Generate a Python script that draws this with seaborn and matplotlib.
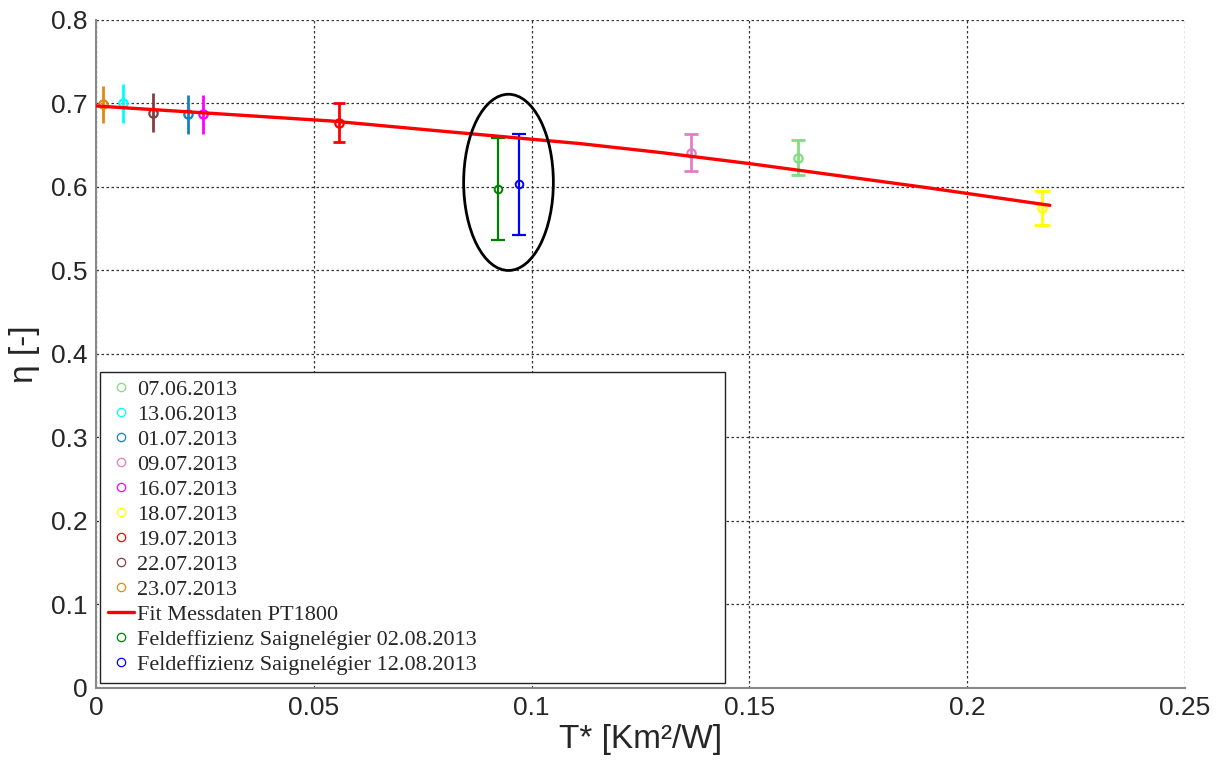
import matplotlib
import matplotlib.pyplot as plt
import pandas as pd
import seaborn as sns
from matplotlib.lines import Line2D
from matplotlib.patches import Ellipse

matplotlib.use("Agg")

# ---------------------------------------------------------------------------
# Data
# ---------------------------------------------------------------------------

date_labels = [
    "07.06.2013", "13.06.2013", "01.07.2013", "09.07.2013", "16.07.2013",
    "18.07.2013", "19.07.2013", "22.07.2013", "23.07.2013",
]
date_t = [0.1612, 0.0062, 0.0211, 0.1365, 0.0245, 0.2172, 0.0557, 0.0131, 0.0016]
date_eta = [0.635, 0.700, 0.687, 0.641, 0.687, 0.575, 0.677, 0.689, 0.699]
date_err = [0.021, 0.023, 0.023, 0.022, 0.023, 0.020, 0.023, 0.023, 0.022]
date_colors = [
    "#80dd80", "#00ffff", "#1a7fc0", "#e07fc8", "#ff00ff",
    "#ffff00", "#ff0000", "#804040", "#e08a10",
]
date_caps = [5, 0, 0, 5, 0, 6, 4, 0, 0]

fit_label = "Fit Messdaten PT1800"
fit_t = [0.0, 0.054, 0.079, 0.111, 0.130, 0.150, 0.191, 0.219]
fit_eta = [0.697, 0.679, 0.667, 0.652, 0.641, 0.628, 0.599, 0.578]

field_labels = [
    "Feldeffizienz Saignelégier 02.08.2013",
    "Feldeffizienz Saignelégier 12.08.2013",
]
field_t = [0.0922, 0.0972]
field_eta = [0.598, 0.603]
field_err = [0.061, 0.060]
field_colors = ["#008000", "#0000ff"]

x_ticks = [0, 0.05, 0.1, 0.15, 0.2, 0.25]
x_ticklabels = ["0", "0.05", "0.1", "0.15", "0.2", "0.25"]
y_ticks = [0, 0.1, 0.2, 0.3, 0.4, 0.5, 0.6, 0.7, 0.8]
y_ticklabels = ["0", "0.1", "0.2", "0.3", "0.4", "0.5", "0.6", "0.7", "0.8"]

# ---------------------------------------------------------------------------
# Plot
# ---------------------------------------------------------------------------

sns.set_theme(style="white")
plt.rcParams["font.family"] = ["Liberation Sans", "DejaVu Sans"]

fig = plt.figure(figsize=(12.24, 7.67), dpi=100)
ax = fig.add_axes([0.0785, 0.103, 0.8895, 0.871])

handles = []

# dated measurements
for lab, t, eta, err, col, cap in zip(
    date_labels, date_t, date_eta, date_err, date_colors, date_caps
):
    ax.errorbar(t, eta, yerr=err, fmt="none", ecolor=col, elinewidth=2.0,
                capsize=cap, capthick=2.0, zorder=3)
    ax.plot(t, eta, "o", mfc="none", mec=col, mew=1.6, ms=6, zorder=4)
    handles.append(Line2D([], [], ls="none", marker="o", mfc="none",
                          mec=col, mew=0.9, ms=6, label=lab))

# fit curve
fit_df = pd.DataFrame({"t": fit_t, "eta": fit_eta})
sns.lineplot(data=fit_df, x="t", y="eta", color="#ff0000", lw=2.4,
             sort=True, ax=ax, zorder=5)
handles.append(Line2D([], [], color="#ff0000", lw=2.4, label=fit_label))

# field efficiency points
for lab, t, eta, err, col in zip(field_labels, field_t, field_eta, field_err, field_colors):
    ax.errorbar(t, eta, yerr=err, fmt="none", ecolor=col, elinewidth=1.6,
                capsize=5, capthick=1.6, zorder=3)
    ax.plot(t, eta, "o", mfc="none", mec=col, mew=1.4, ms=5.5, zorder=4)
    handles.append(Line2D([], [], ls="none", marker="o", mfc="none",
                          mec=col, mew=0.9, ms=6, label=lab))

# highlight ellipse around the two field points
cx = sum(field_t) / len(field_t)
cy = sum(field_eta) / len(field_eta)
ax.add_patch(Ellipse((cx, cy + 0.005), width=0.0206, height=0.211,
                     fill=False, ec="black", lw=2.0, zorder=6))

# axes styling
ax.set_xlim(0, 0.25)
ax.set_ylim(0, 0.8)
ax.set_xticks(x_ticks)
ax.set_xticklabels(x_ticklabels)
ax.set_yticks(y_ticks)
ax.set_yticklabels(y_ticklabels)
ax.tick_params(axis="both", direction="in", length=5, width=1, color="#555555",
               labelsize=19, pad=6)
ax.grid(True, color="#333333", ls=(0, (2, 2)), lw=0.9)
ax.set_axisbelow(True)
for side in ("top", "right"):
    ax.spines[side].set_visible(False)
for side in ("left", "bottom"):
    ax.spines[side].set_color("#888888")
    ax.spines[side].set_linewidth(1.5)

ax.set_xlabel("T* [Km²/W]", fontsize=24, labelpad=3)
ax.set_ylabel("η [-]", fontsize=24, labelpad=8)

leg = ax.legend(
    handles=handles, loc="lower left", mode="expand",
    bbox_to_anchor=(0.004, 0.0075, 0.574, 0.47),
    prop={"family": ["Liberation Serif", "DejaVu Serif"], "size": 16},
    handlelength=1.15, handletextpad=0.15, labelspacing=0.2,
    borderpad=0.35, borderaxespad=0, fancybox=False, frameon=True,
    framealpha=1.0,
)
leg.get_frame().set_edgecolor("#222222")
leg.get_frame().set_linewidth(1.0)
leg.set_zorder(10)

fig.savefig("out.png", dpi=100)
plt.close(fig)
